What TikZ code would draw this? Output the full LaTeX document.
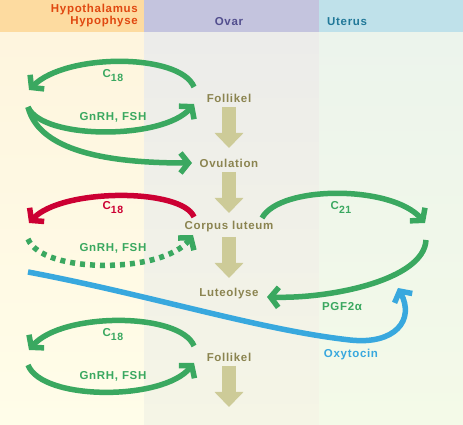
\documentclass[tikz,border=0pt]{standalone}
\usepackage{fontspec}
\setmainfont{Liberation Sans}[LetterSpace=6]
\usepackage{xcolor}
\usetikzlibrary{arrows.meta}

\definecolor{hhHead}{RGB}{253,219,160}
\definecolor{ovHead}{RGB}{196,196,222}
\definecolor{utHead}{RGB}{191,225,234}
\definecolor{hhTop}{RGB}{254,245,222}
\definecolor{hhBot}{RGB}{255,253,233}
\definecolor{ovTop}{RGB}{236,236,234}
\definecolor{ovBot}{RGB}{245,245,230}
\definecolor{utTop}{RGB}{236,244,236}
\definecolor{utBot}{RGB}{244,250,232}
\definecolor{hhText}{RGB}{224,72,16}
\definecolor{ovText}{RGB}{82,78,142}
\definecolor{utText}{RGB}{32,120,152}
\definecolor{hGreen}{RGB}{58,168,96}
\definecolor{hRed}{RGB}{204,0,51}
\definecolor{hBlue}{RGB}{56,168,222}
\definecolor{stageText}{RGB}{139,132,80}
\definecolor{fatArrow}{RGB}{205,203,152}

\newcommand{\Csub}[1]{C\raisebox{-3.5pt}{\fontsize{10.5}{12}\selectfont #1}}

\begin{document}
\begin{tikzpicture}[
  x=1pt, y=1pt,
  txt/.style={font=\fontsize{11.5}{12}\selectfont\bfseries, inner sep=0pt},
  stage/.style={txt, text=stageText, anchor=base},
  lbl/.style={txt, anchor=base},
  fat/.style={line width=14pt, draw=fatArrow, -{Triangle[length=15pt,width=28pt]}},
  hormone/.style={line width=5.5pt, draw=hGreen, -{Straight Barb[length=8pt,width=20pt]}},
]
\useasboundingbox (0,0) rectangle (463,425);

% columns
\shade[top color=hhTop, bottom color=hhBot] (0,0) rectangle (144,393);
\shade[top color=ovTop, bottom color=ovBot] (144,0) rectangle (319,393);
\shade[top color=utTop, bottom color=utBot] (319,0) rectangle (463,393);
\fill[hhHead] (0,393) rectangle (144,425);
\fill[ovHead] (144,393) rectangle (319,425);
\fill[utHead] (319,393) rectangle (463,425);

\node[txt, text=hhText, align=right, anchor=east] (hh) at (138,409) {Hypothalamus\\Hypophyse};
\node[txt, text=ovText] (ov) at (229,403) {Ovar};
\node[txt, text=utText, anchor=west] (ut) at (327,403) {Uterus};

% stages
\node[stage] (fol1) at (229,322) {Follikel};
\node[stage] (ovu)  at (229,257) {Ovulation};
\node[stage] (cl)   at (229,195) {Corpus luteum};
\node[stage] (lut)  at (229,128) {Luteolyse};
\node[stage] (fol2) at (229,63)  {Follikel};
\coordinate (next) at (229,18);

\draw[fat, shorten <=4pt, shorten >=20pt] (fol1.base) -- (ovu.base);
\draw[fat, shorten <=4pt, shorten >=17pt] (ovu.base) -- (cl.base);
\draw[fat, shorten <=7pt, shorten >=19pt] (cl.base) -- (lut.base);
\draw[fat, shorten <=4pt] (fol2.base) -- (next);

% free ends
\coordinate (hh1a) at (29,335);
\coordinate (hh1b) at (28,318);
\coordinate (hh2a) at (29,202);
\coordinate (hh2b) at (28,186);
\coordinate (hh2c) at (28,153);
\coordinate (hh3a) at (29,75);
\coordinate (hh3b) at (28,60);
\coordinate (ut1) at (425,202);
\coordinate (ut2) at (426,185);
\coordinate (ut3) at (398,137);

% first cycle
\draw[hormone] ([shift={(-35,16)}]fol1.base) .. controls (180,372) and (66,372) .. (hh1a);
\draw[hormone] (hh1b) .. controls (42,285) and (163,285) .. ([shift={(-35,-1)}]fol1.base);
\draw[hormone] (hh1b) .. controls (40,270) and (120,262) .. ([shift={(-37,5)}]ovu.base);
\node[lbl, text=hGreen] (c18a) at (113,347) {\Csub{18}};
\node[lbl, text=hGreen] (gna) at (113,304) {GnRH, FSH};

% corpus luteum
\draw[hormone, draw=hRed] ([shift={(-35,13)}]cl.base) .. controls (182,237) and (62,237) .. (hh2a);
\draw[hormone, dash pattern=on 5pt off 5pt] (hh2b) .. controls (42,151) and (163,151) .. ([shift={(-36,-5)}]cl.base);
\draw[hormone] ([shift={(33,12)}]cl.base) .. controls (280,240) and (392,240) .. (ut1);
\draw[hormone] (ut2) .. controls (424,145) and (330,126) .. ([shift={(38,0)}]lut.base);
\draw[hormone, draw=hBlue] (hh2c) .. controls (150,130) and (260,95) .. (350,85)
  .. controls (395,80) and (415,105) .. (ut3);
\node[lbl, text=hRed] (c18b) at (113,215) {\Csub{18}};
\node[lbl, text=hGreen] (gnb) at (113,173) {GnRH, FSH};
\node[lbl, text=hGreen] (c21) at (341,215) {\Csub{21}};
\node[lbl, text=hGreen] (pgf) at (342,114) {PGF2α};
\node[lbl, text=hBlue] (oxy) at (351,67) {Oxytocin};

% next cycle
\draw[hormone] ([shift={(-35,16)}]fol2.base) .. controls (180,113) and (62,113) .. (hh3a);
\draw[hormone] (hh3b) .. controls (42,24) and (163,24) .. ([shift={(-35,-1)}]fol2.base);
\node[lbl, text=hGreen] (c18c) at (113,88) {\Csub{18}};
\node[lbl, text=hGreen] (gnc) at (113,45) {GnRH, FSH};
\end{tikzpicture}
\end{document}
